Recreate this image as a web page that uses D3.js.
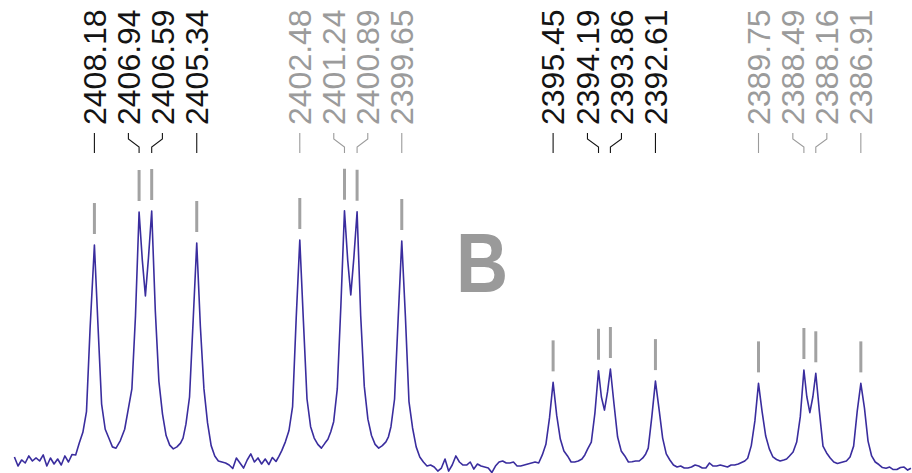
<!DOCTYPE html>
<html>
<head>
<meta charset="utf-8">
<script src="https://cdn.jsdelivr.net/npm/d3@7"></script>
<style>
  html, body { margin: 0; padding: 0; background: #fff; }
  svg { display: block; }
</style>
</head>
<body>
<svg id="chart" width="912" height="473"></svg>
<script>
// Picked peak positions (Hz), left to right
const peakShifts = [
  2408.18, 2406.94, 2406.59, 2405.34,
  2402.48, 2401.24, 2400.89, 2399.65,
  2395.45, 2394.19, 2393.86, 2392.61,
  2389.75, 2388.49, 2388.16, 2386.91
];

// Multiplet each peak belongs to
const peakGroup = [0, 0, 0, 0, 1, 1, 1, 1, 2, 2, 2, 2, 3, 3, 3, 3];

// Panel letter
const panelLabel = "B";

// Spectrum trace: [frequency (Hz), intensity (a.u.)]
const spectrum = [
  [2410.4, 2.0], [2410.3, -1.6], [2410.2, 0.8], [2410.1, -0.4], [2410.0, 2.4],
  [2409.9, 0.4], [2409.8, 1.6], [2409.7, 0.4], [2409.6, 2.8], [2409.5, -1.6],
  [2409.4, 1.6], [2409.3, -0.8], [2409.2, 1.2], [2409.1, -1.2], [2409.0, 2.4],
  [2408.9, 0.0], [2408.8, 3.0], [2408.7, 2.8], [2408.6, 7.5], [2408.5, 11.8],
  [2408.4, 20], [2408.3, 53], [2408.18, 86.1], [2408.08, 54], [2407.98, 23],
  [2407.88, 13], [2407.78, 9.5], [2407.68, 6], [2407.58, 5.5], [2407.46, 8.5],
  [2407.34, 13], [2407.24, 21], [2407.14, 29], [2407.04, 58], [2406.94, 99.2],
  [2406.85, 80], [2406.765, 65.9], [2406.68, 81], [2406.59, 99.6], [2406.49, 60],
  [2406.39, 32], [2406.29, 19], [2406.19, 10.5], [2406.09, 6.7], [2405.99, 5.2],
  [2405.89, 6], [2405.79, 7.5], [2405.72, 9.5], [2405.64, 15], [2405.54, 25.8],
  [2405.44, 56], [2405.34, 86.9], [2405.24, 54], [2405.14, 29], [2405.04, 15.5],
  [2404.94, 6.5], [2404.84, 2.4], [2404.74, 0.4], [2404.64, 0], [2404.54, -0.4],
  [2404.44, -1.2], [2404.34, -2.6], [2404.24, 1.6], [2404.14, -0.4], [2404.04, -2.4],
  [2403.94, 0.8], [2403.84, 3.2], [2403.74, 0], [2403.64, 1.6], [2403.54, -0.8],
  [2403.44, 1.2], [2403.34, -1.0], [2403.24, 1.8], [2403.14, 0.2], [2403.06, 2.2],
  [2402.98, 4.5], [2402.88, 8], [2402.78, 12.5], [2402.68, 22], [2402.58, 57],
  [2402.48, 88.1], [2402.38, 56], [2402.28, 25], [2402.18, 14], [2402.08, 9.5],
  [2401.98, 7], [2401.88, 5.5], [2401.78, 7.5], [2401.70, 9], [2401.62, 12],
  [2401.54, 16], [2401.44, 29], [2401.34, 62], [2401.24, 99.7], [2401.15, 80],
  [2401.065, 66.3], [2400.98, 81], [2400.89, 99.3], [2400.79, 58], [2400.69, 30],
  [2400.59, 17], [2400.49, 10.5], [2400.39, 7], [2400.29, 5.5], [2400.19, 6.5],
  [2400.09, 8], [2400.02, 10], [2399.95, 14], [2399.85, 25], [2399.75, 57],
  [2399.65, 87.7], [2399.55, 58], [2399.45, 24], [2399.35, 13.5], [2399.25, 6],
  [2399.15, 2], [2399.05, 0], [2398.95, -1.6], [2398.85, -1.2], [2398.75, -2],
  [2398.65, -3.6], [2398.55, -2.4], [2398.45, 1.2], [2398.35, -3.6], [2398.25, -1.2],
  [2398.15, 2.4], [2398.05, 0], [2397.95, -1.2], [2397.85, -1.2], [2397.75, 0],
  [2397.65, -2.8], [2397.55, -0.8], [2397.45, -1.6], [2397.35, -2], [2397.25, -2.4],
  [2397.15, -4.2], [2397.05, -1.6], [2396.95, 0], [2396.85, 0.4], [2396.75, -0.4],
  [2396.65, -0.4], [2396.55, 0], [2396.45, -1.6], [2396.35, -1.6], [2396.25, -1.2],
  [2396.15, -0.8], [2396.05, -0.4], [2395.95, 0], [2395.85, -0.4], [2395.75, 2.8],
  [2395.65, 7], [2395.55, 17.5], [2395.45, 31.6], [2395.35, 18.5], [2395.25, 9.1],
  [2395.15, 4.4], [2395.05, 2.4], [2394.95, 0], [2394.85, 0], [2394.75, 0.4],
  [2394.65, 1.2], [2394.57, 2.8], [2394.49, 5.2], [2394.39, 7.9], [2394.29, 19.4],
  [2394.19, 36.2], [2394.11, 25.8], [2394.025, 20.6], [2393.94, 27.8], [2393.86, 36.9],
  [2393.76, 23], [2393.66, 9.9], [2393.56, 4.4], [2393.46, 2.4], [2393.36, 0],
  [2393.26, 0.1], [2393.16, 0.4], [2393.06, 0.4], [2392.96, 1.6], [2392.88, 3.2],
  [2392.81, 5.5], [2392.71, 18], [2392.61, 32.1], [2392.51, 21], [2392.41, 9.5],
  [2392.31, 3.2], [2392.21, 0.8], [2392.11, -1.2], [2392.01, -2], [2391.91, -1.6],
  [2391.81, -2.4], [2391.71, -2.4], [2391.61, -2], [2391.51, -1.2], [2391.41, -1.6],
  [2391.31, -2.4], [2391.21, -2.4], [2391.11, -0.4], [2391.01, -1.6], [2390.91, -1.6],
  [2390.81, -1.2], [2390.71, -1.6], [2390.61, -2], [2390.51, -1.2], [2390.41, -1.2],
  [2390.31, -0.8], [2390.22, -0.2], [2390.13, 0.4], [2390.05, 1.5], [2389.95, 6.5],
  [2389.85, 16.3], [2389.75, 31.2], [2389.65, 20], [2389.55, 10.3], [2389.45, 5.2],
  [2389.35, 2], [2389.25, 1], [2389.15, 0.4], [2389.05, 0.8], [2388.97, 1.2],
  [2388.89, 2.4], [2388.79, 4], [2388.69, 7.9], [2388.59, 18], [2388.49, 36.5],
  [2388.41, 26], [2388.325, 19.6], [2388.24, 26], [2388.16, 35.2], [2388.06, 20],
  [2387.96, 6.3], [2387.86, 3.6], [2387.76, 1.6], [2387.66, 0], [2387.56, -0.6],
  [2387.46, -0.2], [2387.41, 0], [2387.31, 0.4], [2387.21, 2], [2387.11, 6.3],
  [2387.01, 20.2], [2386.91, 31.2], [2386.81, 21.5], [2386.71, 8.3], [2386.61, 2.4],
  [2386.51, 0], [2386.41, -1], [2386.31, -2.2], [2386.21, -2.5], [2386.11, -2],
  [2386.01, -3], [2385.91, -3], [2385.81, -2.2], [2385.71, -2], [2385.61, -3.2],
  [2385.52, -2.5]
];

const width = 912, height = 473;
const svg = d3.select("#chart");

// Frequency axis runs right-to-left, as usual for NMR
const x = d3.scaleLinear().domain([2410.80, 2385.49]).range([0, width]);
const y = d3.scaleLinear().domain([0, 100]).range([462, 210]);

const groupColor = g => (g % 2 === 0 ? "#141414" : "#9b9b9b");

// Spectrum trace
const line = d3.line().x(d => x(d[0])).y(d => y(d[1]));
svg.append("path")
  .datum(spectrum)
  .attr("d", line)
  .attr("fill", "none")
  .attr("stroke", "#3a2d9e")
  .attr("stroke-width", 1.6)
  .attr("stroke-linejoin", "round");

// Peak intensity taken from the trace at each picked frequency
const peaks = peakShifts.map((s, i) => {
  const pt = spectrum.find(d => d[0] === s);
  return { shift: s, height: pt ? pt[1] : 0, group: peakGroup[i], px: x(s) };
});

// Markers above every picked peak
svg.append("g")
  .selectAll("line")
  .data(peaks)
  .join("line")
  .attr("x1", d => d.px).attr("x2", d => d.px)
  .attr("y1", d => y(d.height) - 11)
  .attr("y2", d => y(d.height) - 42)
  .attr("stroke", "#a2a2a2")
  .attr("stroke-width", 3);

// Spread label positions so neighbouring labels never overlap
const minSep = 34;
const lx = peaks.map(p => p.px);
for (let iter = 0; iter < 50; iter++) {
  for (let i = 0; i < lx.length - 1; i++) {
    const gap = lx[i + 1] - lx[i];
    if (gap < minSep) {
      const push = (minSep - gap) / 2;
      lx[i] -= push;
      lx[i + 1] += push;
    }
  }
}
peaks.forEach((p, i) => { p.lx = lx[i]; });

// Connector from each label to its peak
svg.append("g")
  .selectAll("path")
  .data(peaks)
  .join("path")
  .attr("d", d => `M${d.lx},133V139L${d.px},147V153`)
  .attr("fill", "none")
  .attr("stroke", d => groupColor(d.group))
  .attr("stroke-width", 1.1);

// Rotated frequency labels
svg.append("g")
  .selectAll("text")
  .data(peaks)
  .join("text")
  .attr("transform", d => `translate(${d.lx},125) rotate(-90)`)
  .attr("dy", "0.35em")
  .attr("text-anchor", "start")
  .attr("font-family", "'Liberation Sans', Arial, Helvetica, sans-serif")
  .attr("font-size", 32)
  .attr("fill", d => groupColor(d.group))
  .text(d => d.shift.toFixed(2));

// Panel letter
svg.append("text")
  .attr("transform", "translate(482,292) scale(0.86,1)")
  .attr("text-anchor", "middle")
  .attr("font-family", "'Liberation Sans', Arial, Helvetica, sans-serif")
  .attr("font-weight", "bold")
  .attr("font-size", 84)
  .attr("fill", "#9a9a9a")
  .text(panelLabel);
</script>
</body>
</html>
